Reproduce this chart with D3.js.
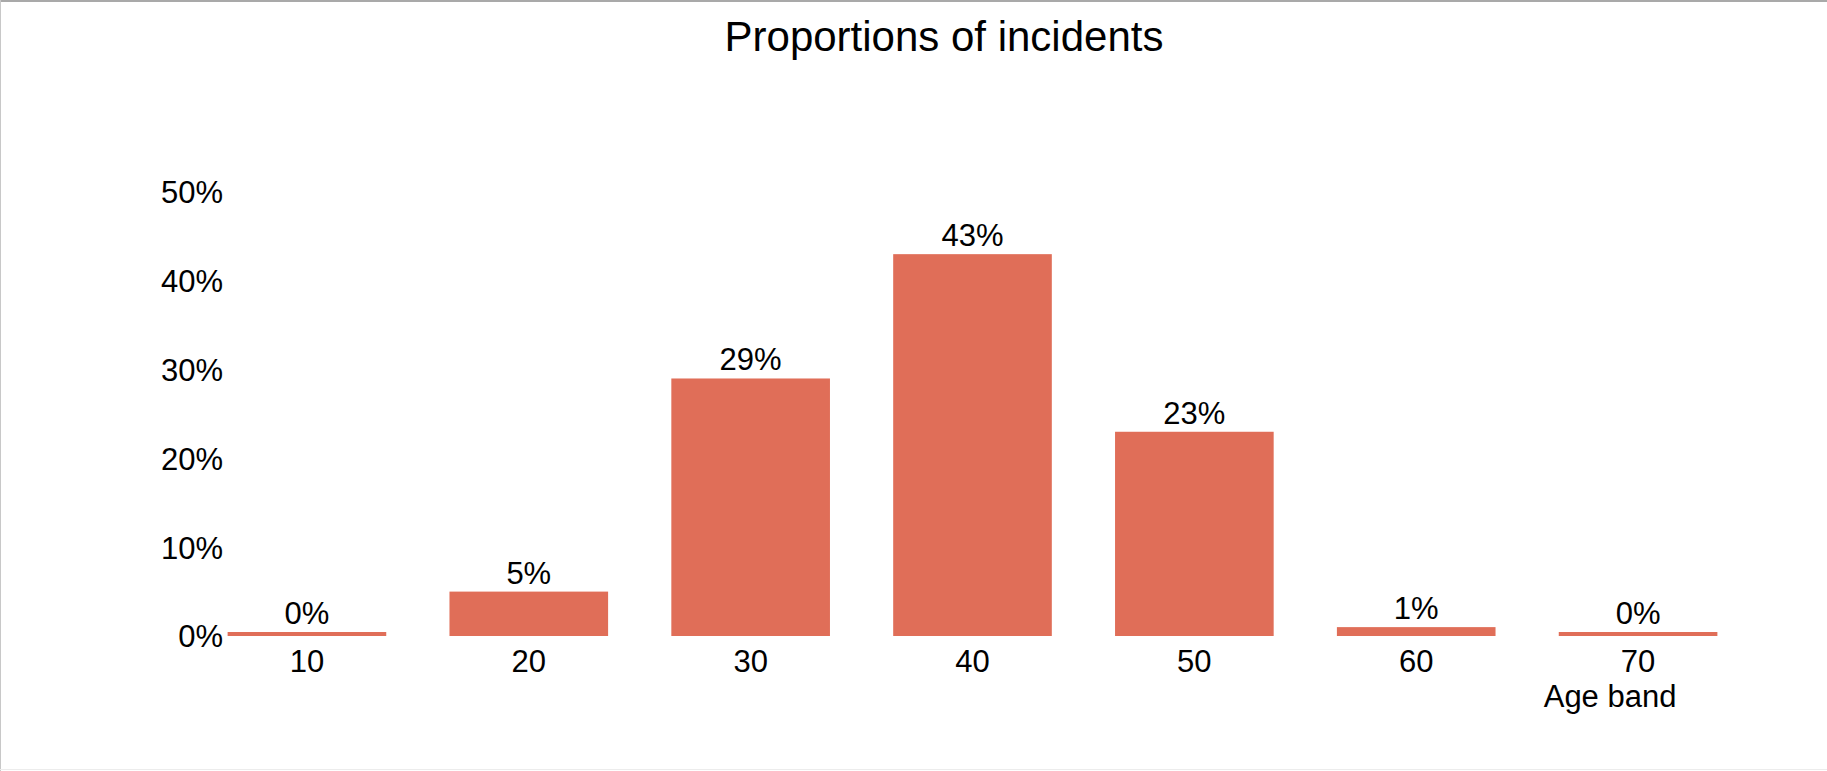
<!DOCTYPE html>
<html>
<head>
<meta charset="utf-8">
<script src="https://cdn.jsdelivr.net/npm/d3@7"></script>
<style>
  html, body { margin: 0; padding: 0; background: #fff; }
  svg { display: block; font-family: "Liberation Sans", Arial, Helvetica, sans-serif; }
</style>
</head>
<body>
<div id="chart"></div>
<script>
// Age bands and the share of incidents falling in each (percent)
const ageBands = ["10", "20", "30", "40", "50", "60", "70"];
const shares = [0, 5, 29, 43, 23, 1, 0];
const yTicks = [0, 10, 20, 30, 40, 50];

const chartTitle = "Proportions of incidents";
const xAxisTitle = "Age band";

const width = 1827, height = 771;
const barColor = "#e06e58";
const minBarHeight = 4;   // keep zero-valued bars visible as a thin strip

const svg = d3.select("#chart").append("svg")
  .attr("width", width)
  .attr("height", height);

// outer frame
svg.append("line").attr("x1", 0).attr("x2", width).attr("y1", 1).attr("y2", 1)
  .attr("stroke", "#a9a9a9").attr("stroke-width", 2);
svg.append("line").attr("x1", 0.5).attr("x2", 0.5).attr("y1", 0).attr("y2", height)
  .attr("stroke", "#c8c8c8").attr("stroke-width", 1);
svg.append("line").attr("x1", 0).attr("x2", width).attr("y1", height - 1.5).attr("y2", height - 1.5)
  .attr("stroke", "#ececec").attr("stroke-width", 1);

const x = d3.scaleBand()
  .domain(ageBands)
  .range([196, 1749])
  .paddingInner(0.285)
  .paddingOuter(0.1425);

const y = d3.scaleLinear()
  .domain([0, 50])
  .range([636, 192]);

// title
svg.append("text")
  .attr("x", 944)
  .attr("y", 51)
  .attr("text-anchor", "middle")
  .attr("font-size", 42)
  .attr("fill", "#000")
  .text(chartTitle);

// y axis: labels only
const yAxis = d3.axisLeft(y)
  .tickValues(yTicks)
  .tickSize(0)
  .tickPadding(0)
  .tickFormat(d => d + "%");

svg.append("g")
  .attr("transform", "translate(223,0)")
  .call(yAxis)
  .call(g => g.select(".domain").remove())
  .call(g => g.selectAll("text")
    .attr("font-size", 31)
    .attr("font-family", null)
    .attr("fill", "#000")
    .attr("dy", "0.35em"));

// x axis: labels only
const xAxis = d3.axisBottom(x).tickSize(0).tickPadding(0);

svg.append("g")
  .attr("transform", `translate(0,${y(0)})`)
  .call(xAxis)
  .call(g => g.select(".domain").remove())
  .call(g => g.selectAll("text")
    .attr("font-size", 31)
    .attr("font-family", null)
    .attr("fill", "#000")
    .attr("dy", null)
    .attr("y", 36));

// axis title under the last band
svg.append("text")
  .attr("x", x(ageBands[ageBands.length - 1]) + x.bandwidth() / 2 - 28)
  .attr("y", 707)
  .attr("text-anchor", "middle")
  .attr("font-size", 31)
  .attr("fill", "#000")
  .text(xAxisTitle);

const data = ageBands.map((band, i) => ({ band, value: shares[i] }));

const barTop = d => Math.min(y(d.value), y(0) - minBarHeight);

// bars
svg.append("g").selectAll("rect")
  .data(data)
  .join("rect")
  .attr("x", d => x(d.band))
  .attr("width", x.bandwidth())
  .attr("y", barTop)
  .attr("height", d => y(0) - barTop(d))
  .attr("fill", barColor);

// value labels
svg.append("g").selectAll("text")
  .data(data)
  .join("text")
  .attr("x", d => x(d.band) + x.bandwidth() / 2)
  .attr("y", d => barTop(d) - 8)
  .attr("text-anchor", "middle")
  .attr("font-size", 31)
  .attr("fill", "#000")
  .text(d => d.value + "%");
</script>
</body>
</html>
